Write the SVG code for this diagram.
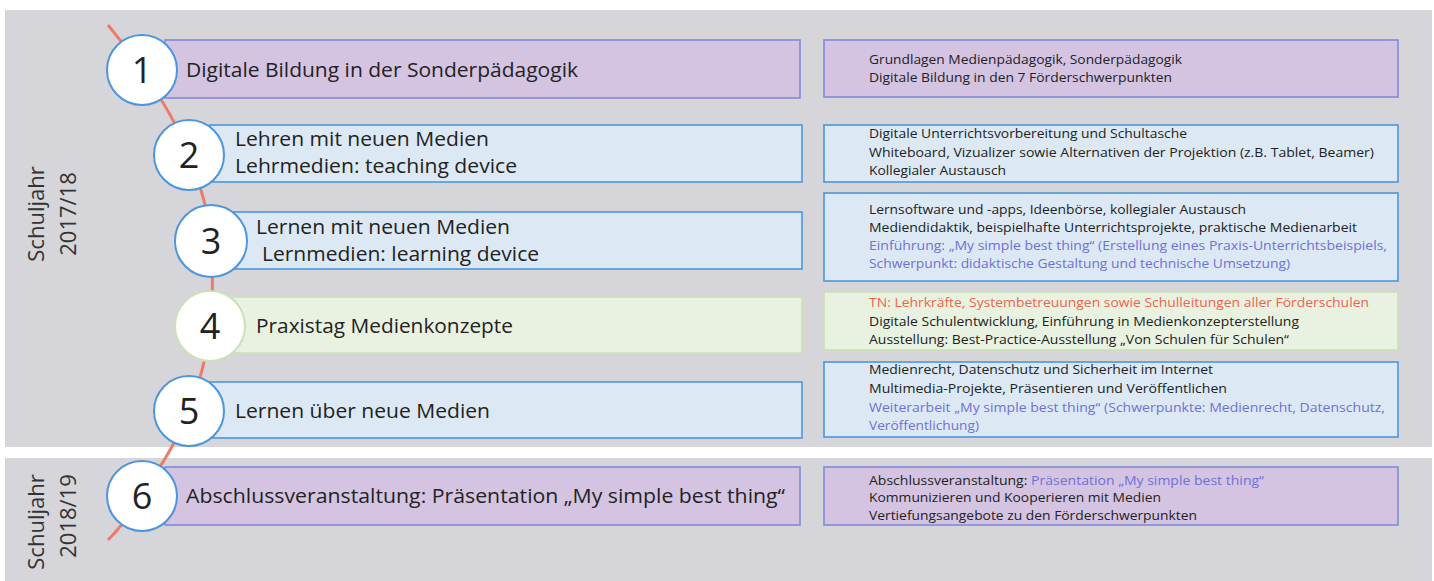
<svg xmlns="http://www.w3.org/2000/svg" width="1434" height="581" viewBox="0 0 1434 581">
<style>
.panel{fill:#d6d5da}
.purple{fill:#d4c4e2;stroke:#7f8bd8;stroke-width:1.6}
.blue{fill:#dce9f5;stroke:#4b96dc;stroke-width:1.6}
.green{fill:#e9f2e1;stroke:#c9e2b6;stroke-width:1.6}
.circ{fill:#ffffff;stroke:#4b96dc;stroke-width:2}
.circg{fill:#ffffff;stroke:#c9e2b6;stroke-width:2}
.num{font-family:"Open Sans","Liberation Sans",sans-serif;font-size:36px;fill:#222;text-anchor:middle}
.lt{font-family:"Open Sans","Liberation Sans",sans-serif;font-size:19.5px;fill:#222}
.rt{font-family:"Open Sans","Liberation Sans",sans-serif;font-size:13.2px;fill:#222}
.hl{fill:#7070d8}
.red{fill:#f2624c}
.yr{font-family:"Open Sans","Liberation Sans",sans-serif;font-size:22px;fill:#333;text-anchor:middle}
.spine{fill:none;stroke:#f07a68;stroke-width:3}
</style>
<rect width="1434" height="581" fill="#ffffff"/>
<rect class="panel" x="5" y="10" width="1427" height="437"/>
<rect class="panel" x="5" y="458" width="1427" height="123"/>
<g id="year1">
<text class="yr" transform="translate(44,214) rotate(-90)">Schuljahr</text>
<text class="yr" transform="translate(76,214) rotate(-90)">2017/18</text>
</g>
<g id="year2">
<text class="yr" transform="translate(44,522) rotate(-90)">Schuljahr</text>
<text class="yr" transform="translate(76,516) rotate(-90)">2018/19</text>
</g>
<g id="connectors">
<path class="spine" d="M108,25 C120,40 130,52 142,70 C160,97 178,125 189,155 C200,185 209,212 211,241 C213,270 213,300 210,326 C207,355 199,385 189,411 C177,442 158,470 142,496 C130,515 118,530 108,540"/>
</g>
<g id="step1">
<rect class="purple" x="165" y="40" width="635" height="58"/>
<circle class="circ" cx="142" cy="70" r="35"/>
<text class="num" x="142" y="83">1</text>
<text class="lt" x="186" y="77" textLength="392" lengthAdjust="spacingAndGlyphs">Digitale Bildung in der Sonderpädagogik</text>
</g>
<g id="step2">
<rect class="blue" x="210" y="125" width="592" height="57"/>
<circle class="circ" cx="189" cy="155" r="35"/>
<text class="num" x="189" y="168">2</text>
<text class="lt" x="235" y="146" textLength="254" lengthAdjust="spacingAndGlyphs">Lehren mit neuen Medien</text>
<text class="lt" x="235" y="173" textLength="282" lengthAdjust="spacingAndGlyphs">Lehrmedien: teaching device</text>
</g>
<g id="step3">
<rect class="blue" x="232" y="212" width="570" height="57"/>
<circle class="circ" cx="211" cy="241" r="36"/>
<text class="num" x="211" y="254">3</text>
<text class="lt" x="256" y="234" textLength="254" lengthAdjust="spacingAndGlyphs">Lernen mit neuen Medien</text>
<text class="lt" x="262" y="261" textLength="277" lengthAdjust="spacingAndGlyphs">Lernmedien: learning device</text>
</g>
<g id="step4">
<rect class="green" x="232" y="297" width="570" height="56"/>
<circle class="circg" cx="210" cy="326" r="35"/>
<text class="num" x="210" y="339">4</text>
<text class="lt" x="256" y="333" textLength="257" lengthAdjust="spacingAndGlyphs">Praxistag Medienkonzepte</text>
</g>
<g id="step5">
<rect class="blue" x="210" y="382" width="592" height="56"/>
<circle class="circ" cx="189" cy="411" r="35"/>
<text class="num" x="189" y="424">5</text>
<text class="lt" x="235" y="418" textLength="255" lengthAdjust="spacingAndGlyphs">Lernen über neue Medien</text>
</g>
<g id="step6">
<rect class="purple" x="165" y="467" width="635" height="58"/>
<circle class="circ" cx="142" cy="496" r="35"/>
<text class="num" x="142" y="509">6</text>
<text class="lt" x="186" y="503" textLength="599" lengthAdjust="spacingAndGlyphs">Abschlussveranstaltung: Präsentation „My simple best thing“</text>
</g>
<g id="detail1">
<rect class="purple" x="824" y="40" width="574" height="57"/>
<text class="rt" x="869" y="64" textLength="313" lengthAdjust="spacingAndGlyphs">Grundlagen Medienpädagogik, Sonderpädagogik</text>
<text class="rt" x="869" y="82" textLength="303" lengthAdjust="spacingAndGlyphs">Digitale Bildung in den 7 Förderschwerpunkten</text>
</g>
<g id="detail2">
<rect class="blue" x="824" y="125" width="574" height="57"/>
<text class="rt" x="869" y="138" textLength="318" lengthAdjust="spacingAndGlyphs">Digitale Unterrichtsvorbereitung und Schultasche</text>
<text class="rt" x="869" y="157" textLength="505" lengthAdjust="spacingAndGlyphs">Whiteboard, Vizualizer sowie Alternativen der Projektion (z.B. Tablet, Beamer)</text>
<text class="rt" x="869" y="175" textLength="137" lengthAdjust="spacingAndGlyphs">Kollegialer Austausch</text>
</g>
<g id="detail3">
<rect class="blue" x="824" y="193" width="574" height="88"/>
<text class="rt" x="869" y="214" textLength="377" lengthAdjust="spacingAndGlyphs">Lernsoftware und -apps, Ideenbörse, kollegialer Austausch</text>
<text class="rt" x="869" y="232" textLength="488" lengthAdjust="spacingAndGlyphs">Mediendidaktik, beispielhafte Unterrichtsprojekte, praktische Medienarbeit</text>
<text class="rt hl" x="869" y="250" textLength="518" lengthAdjust="spacingAndGlyphs">Einführung: „My simple best thing“ (Erstellung eines Praxis-Unterrichtsbeispiels,</text>
<text class="rt hl" x="869" y="268" textLength="421" lengthAdjust="spacingAndGlyphs">Schwerpunkt: didaktische Gestaltung und technische Umsetzung)</text>
</g>
<g id="detail4">
<rect class="green" x="824" y="292" width="574" height="58"/>
<text class="rt red" x="869" y="307" textLength="500" lengthAdjust="spacingAndGlyphs">TN: Lehrkräfte, Systembetreuungen sowie Schulleitungen aller Förderschulen</text>
<text class="rt" x="869" y="326" textLength="430" lengthAdjust="spacingAndGlyphs">Digitale Schulentwicklung, Einführung in Medienkonzepterstellung</text>
<text class="rt" x="869" y="344" textLength="420" lengthAdjust="spacingAndGlyphs">Ausstellung: Best-Practice-Ausstellung „Von Schulen für Schulen“</text>
</g>
<g id="detail5">
<rect class="blue" x="824" y="362" width="574" height="75"/>
<text class="rt" x="869" y="374" textLength="344" lengthAdjust="spacingAndGlyphs">Medienrecht, Datenschutz und Sicherheit im Internet</text>
<text class="rt" x="869" y="393" textLength="358" lengthAdjust="spacingAndGlyphs">Multimedia-Projekte, Präsentieren und Veröffentlichen</text>
<text class="rt hl" x="869" y="412" textLength="516" lengthAdjust="spacingAndGlyphs">Weiterarbeit „My simple best thing“ (Schwerpunkte: Medienrecht, Datenschutz,</text>
<text class="rt hl" x="869" y="430" textLength="110" lengthAdjust="spacingAndGlyphs">Veröffentlichung)</text>
</g>
<g id="detail6">
<rect class="purple" x="824" y="467" width="574" height="58"/>
<text class="rt" x="869" y="485" textLength="395" lengthAdjust="spacingAndGlyphs">Abschlussveranstaltung: <tspan class="hl">Präsentation „My simple best thing“</tspan></text>
<text class="rt" x="869" y="502" textLength="292" lengthAdjust="spacingAndGlyphs">Kommunizieren und Kooperieren mit Medien</text>
<text class="rt" x="869" y="520" textLength="328" lengthAdjust="spacingAndGlyphs">Vertiefungsangebote zu den Förderschwerpunkten</text>
</g>
</svg>
